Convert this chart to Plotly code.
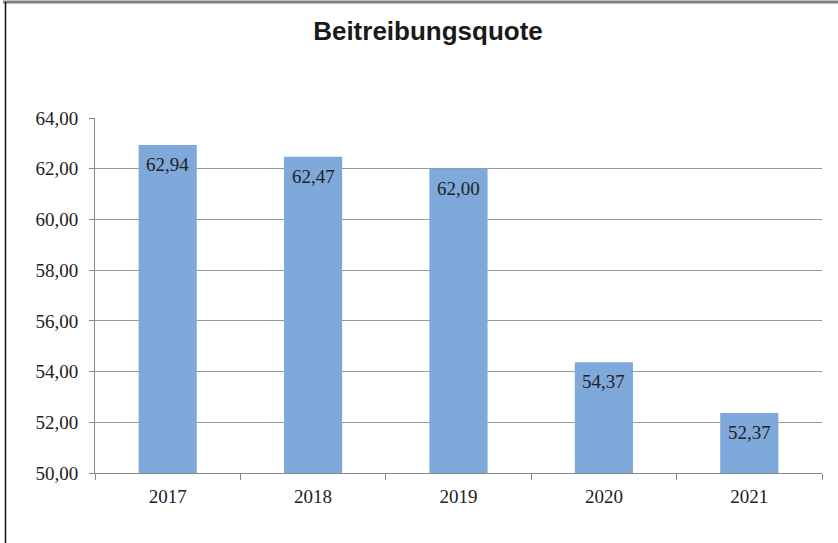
import plotly.graph_objects as go

years = ["2017", "2018", "2019", "2020", "2021"]
values = [62.94, 62.47, 62.00, 54.37, 52.37]
title_text = "Beitreibungsquote"

L, R, T, B = 95, 16, 118, 70
W, H = 838, 543
pw, ph = W - L - R, H - T - B

def px2x(px):
    return (px - L) / pw

def py2y(py):
    return (H - B - py) / ph

fig = go.Figure(go.Bar(
    x=years, y=values,
    marker=dict(color="#7EA9DA", line=dict(width=0)),
    width=0.4,
    hoverinfo="x+y",
))

for i, v in enumerate(values):
    fig.add_annotation(
        x=i, y=v, xref="x", yref="y",
        text=f"{v:.2f}".replace(".", ","),
        showarrow=False, yanchor="top", xanchor="center", yshift=-7,
        font=dict(family="Liberation Serif", size=19, color="#222222"),
    )

fig.update_layout(
    width=W, height=H,
    margin=dict(l=L, r=R, t=T, b=B),
    paper_bgcolor="white", plot_bgcolor="white",
    separators=",.",
    showlegend=False,
    title=dict(text="<b>" + title_text + "</b>", x=428 / W, xref="container", xanchor="center",
               y=1 - 31 / H, yref="container", yanchor="middle",
               font=dict(family="Liberation Sans", size=26, color="#1a1a1a")),
    xaxis=dict(type="category", categoryorder="array", categoryarray=years,
               range=[-0.5, len(years) - 0.5],
               showline=True, linecolor="#888888", linewidth=1,
               ticks="outside", tickson="boundaries", ticklen=6, tickcolor="#888888",
               ticklabelstandoff=6, tickangle=0,
               tickfont=dict(family="Liberation Serif", size=19, color="#222222"),
               showgrid=False),
    yaxis=dict(range=[50, 64], dtick=2, tickformat=".2f",
               showline=True, linecolor="#888888", linewidth=1,
               ticks="outside", ticklen=5, tickcolor="#888888",
               ticklabelstandoff=7,
               gridcolor="#9a9a9a", gridwidth=1,
               tickfont=dict(family="Liberation Serif", size=19, color="#222222"),
               zeroline=False),
    shapes=[
        dict(type="line", xref="paper", yref="paper", x0=px2x(3), x1=px2x(840),
             y0=py2y(2), y1=py2y(2), line=dict(color="#808080", width=3)),
        dict(type="line", xref="paper", yref="paper", x0=px2x(5.5), x1=px2x(5.5),
             y0=py2y(2), y1=py2y(545), line=dict(color="#111111", width=1.5)),
    ],
)

fig.write_html("out.html", config={"displayModeBar": False},
               post_script="document.body.style.margin='0';document.body.style.overflow='hidden';")
